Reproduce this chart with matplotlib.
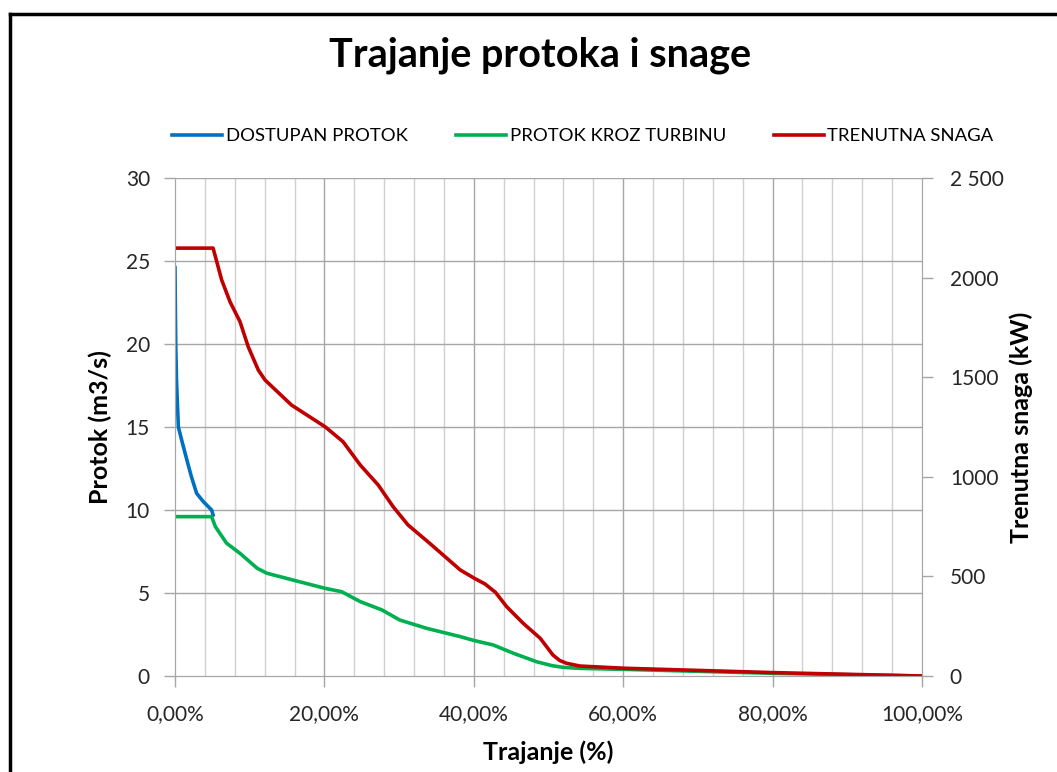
import numpy as np
import matplotlib
matplotlib.use("Agg")
import matplotlib.pyplot as plt
from matplotlib.lines import Line2D
from matplotlib.ticker import FixedLocator

# data (x in % of time)
dostupan_x = [0.0, 0.1, 0.2, 0.45, 0.9, 1.6, 2.2, 2.9, 3.8, 4.9, 5.1]
dostupan_q = [24.6, 20.0, 17.8, 15.0, 14.2, 13.0, 12.0, 11.0, 10.5, 10.0, 9.7]

turbina_x = [0.0, 4.9, 5.4, 6.9, 8.7, 11.0, 12.3, 15.8, 20.1, 22.3, 24.8, 27.7,
             30.1, 33.7, 38.2, 40.1, 42.6, 45.3, 48.4, 50.5, 52.0, 54.2, 60.1, 80.1, 100.0]
turbina_q = [9.6, 9.6, 9.0, 8.0, 7.39, 6.49, 6.19, 5.78, 5.28, 5.08, 4.48, 3.98,
             3.37, 2.87, 2.37, 2.13, 1.87, 1.37, 0.86, 0.62, 0.52, 0.46, 0.40, 0.16, 0.0]

snaga_x = [0.0, 5.1, 6.25, 7.36, 8.7, 9.8, 11.15, 12.05, 15.6, 20.1, 22.5, 24.8,
           27.2, 29.2, 31.2, 34.1, 38.2, 40.1, 41.5, 42.9, 44.4, 46.6, 48.9, 50.6, 51.5, 52.4,
           54.2, 60.1, 80.1, 100.0]
snaga_kw = [2148, 2148, 1988, 1879, 1779, 1653, 1536, 1486, 1360, 1251, 1176, 1059,
            959, 850, 758, 666, 532, 490, 462, 420, 348, 265, 189, 105, 78, 64,
            50, 39, 17, 0]

x_ticks = [0, 20, 40, 60, 80, 100]
x_labels = ["0,00%", "20,00%", "40,00%", "60,00%", "80,00%", "100,00%"]
left_ticks = [0, 5, 10, 15, 20, 25, 30]
right_ticks = [0, 500, 1000, 1500, 2000, 2500]
right_labels = ["0", "500", "1000", "1500", "2000", "2 500"]

plt.rcParams['font.family'] = ['Lato', 'DejaVu Sans']

fig = plt.figure(figsize=(10.57, 7.72), dpi=100)
ax = fig.add_axes([175/1057, 1-676/772, 747/1057, 498/772])
ax2 = ax.twinx()

grid_c = "#a6a6a6"
ax.set_xlim(0, 100)
ax.set_ylim(0, 30)
ax2.set_ylim(0, 2500)

# minor vertical gridlines every 4 %
for gx in np.arange(4, 100, 4):
    if gx % 20:
        ax.axvline(gx, color="#d0d0d0", lw=1.0, zorder=0)
for gx in x_ticks[1:-1]:
    ax.axvline(gx, color=grid_c, lw=1.0, zorder=0)
for gy in left_ticks[1:]:
    ax.axhline(gy, color=grid_c, lw=1.0, zorder=0)

ax.plot(dostupan_x, dostupan_q, color="#0070c0", lw=2.6, solid_joinstyle="round")
ax.plot(turbina_x, turbina_q, color="#00b050", lw=2.6, solid_joinstyle="round")
ax2.plot(snaga_x, snaga_kw, color="#c00000", lw=2.6, solid_joinstyle="round")

ax.xaxis.set_major_locator(FixedLocator(x_ticks))
ax.set_xticklabels(x_labels)
ax.set_yticks(left_ticks)
ax2.set_yticks(right_ticks)
ax2.set_yticklabels(right_labels)

for a in (ax, ax2):
    for s in a.spines.values():
        s.set_color(grid_c)
    a.spines["top"].set_visible(False)
    a.tick_params(colors=grid_c, labelcolor="#262626", labelsize=15, length=8, width=1)
ax.tick_params(axis="x", pad=12)
ax.tick_params(axis="y", pad=10)
ax2.tick_params(axis="y", pad=12)

ax.set_xlabel("Trajanje (%)", fontsize=18, fontweight="bold", labelpad=12)
ax.set_ylabel("Protok (m3/s)", fontsize=18, fontweight="bold", labelpad=10)
ax2.set_ylabel("Trenutna snaga (kW)", fontsize=18, fontweight="bold", labelpad=4)

fig.text(540/1057, 1-55/772, "Trajanje protoka i snage", ha="center", va="center",
         fontsize=28.5, fontweight="bold")

handles = [Line2D([], [], color="#0070c0", lw=2.6),
           Line2D([], [], color="#00b050", lw=2.6),
           Line2D([], [], color="#c00000", lw=2.6)]
fig.legend(handles, ["DOSTUPAN PROTOK", "PROTOK KROZ TURBINU", "TRENUTNA SNAGA"],
           loc="center", bbox_to_anchor=(583/1057, 1-136/772), ncol=3, frameon=False,
           fontsize=13.3, handlelength=2.7, handletextpad=0.2, columnspacing=2.6)

# outer frame (left and top edges)
fig.add_artist(Line2D([10/1057, 10/1057], [0, 1-14/772], color="black", lw=2.5,
                      transform=fig.transFigure))
fig.add_artist(Line2D([10/1057, 1], [1-14/772, 1-14/772], color="black", lw=2.5,
                      transform=fig.transFigure))

fig.savefig("out.png", dpi=100)
